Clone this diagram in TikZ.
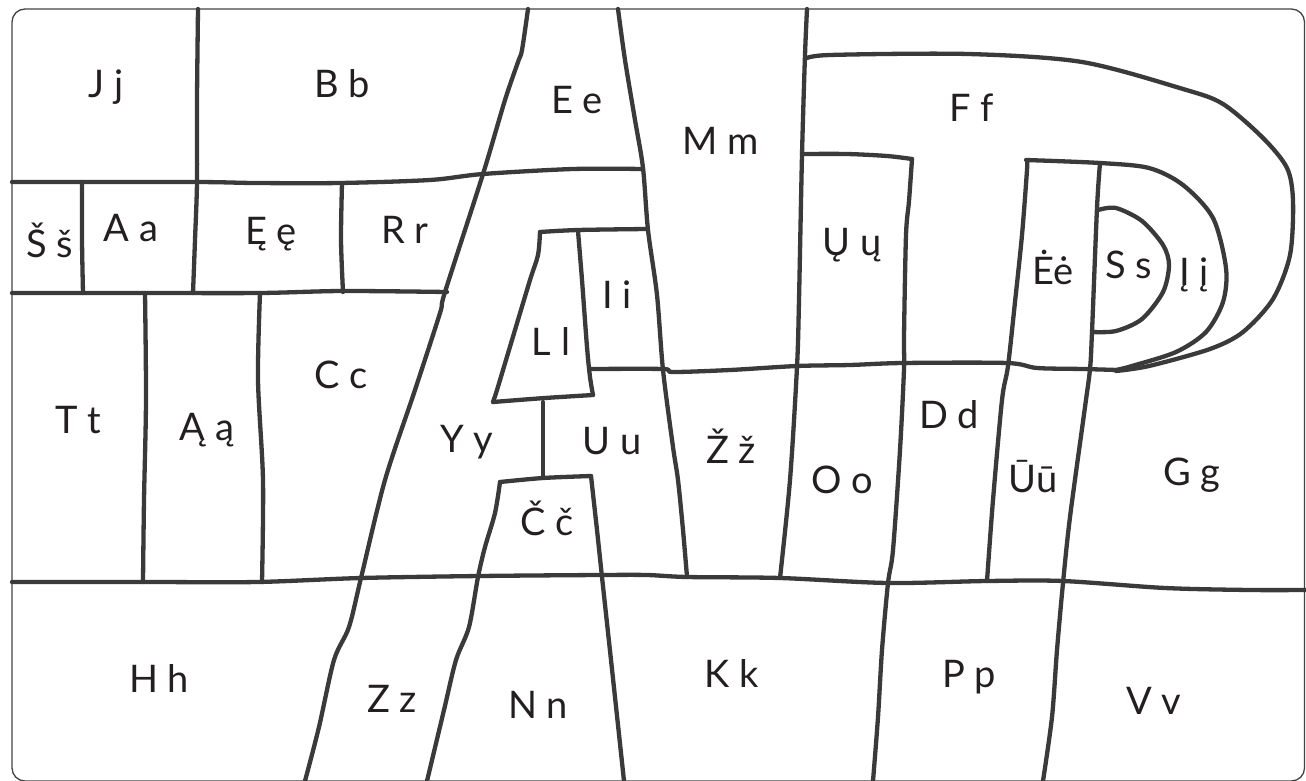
\documentclass[tikz,border=0pt]{standalone}
\usepackage{fontspec}
\setmainfont{Lato}
\definecolor{inkline}{HTML}{3A3A3A}
\definecolor{inktext}{HTML}{231F20}
\definecolor{framecol}{HTML}{444444}
\tikzset{
  ln/.style={draw=inkline, line width=4.3pt, line cap=round, line join=round},
  framebox/.style={draw=framecol, line width=1.3pt, rounded corners=13pt},
  lab/.style={anchor=base, inner sep=0pt, text=inktext, font=\fontsize{38}{40}\selectfont},
}
\begin{document}
\begin{tikzpicture}[x=1pt, y=-1pt]
\useasboundingbox (0,0) rectangle (1306,781);
\fill[white] (0,0) rectangle (1306,781);
\draw[framebox] (12,9) rectangle (1304.5,781);

% top crossbar
\draw[ln] plot[smooth,tension=.5] coordinates {(12,182) (195,182) (255,183) (340,183) (430,180) (483,174) (573,169) (643,169)};
% J/B divider
\draw[ln] plot[smooth,tension=.5] coordinates {(198,9) (197,100) (197,182) (195,240) (193,293)};
% second horizontal
\draw[ln] plot[smooth,tension=.5] coordinates {(12,293) (145,293) (260,293) (342,291) (447,292)};
% S/A and E/R dividers
\draw[ln] plot[smooth,tension=.5] coordinates {(82,182) (82,240) (83,293)};
\draw[ln] plot[smooth,tension=.5] coordinates {(342,183) (341,240) (343,292)};
% left leg
\draw[ln] plot[smooth,tension=.5] coordinates {(528,9) (522,50) (518,62) (505,100) (483,174) (445,292) (440,313) (415,390) (385,480) (361,578) (349,627) (334,660) (319,727) (305,781)};
% right leg upper
\draw[ln] plot[smooth,tension=.5] coordinates {(618,9) (625,60) (635,120) (643,168) (648,230) (657,295) (663,370) (673,447) (678,480) (683,530) (687,577)};
% M right divider
\draw[ln] plot[smooth,tension=.5] coordinates {(807,9) (805,55) (802,155) (799,300) (797,367) (790,480) (780,578)};
% F outer
\draw[ln] plot[smooth,tension=.5] coordinates {(805,59) (830,55) (968,54) (1082,62) (1183,89) (1223,104) (1263,138) (1287,168) (1293,201) (1290,255) (1273,299) (1243,332) (1210,349) (1149,366) (1116,371)};
% U-ogonek box top
\draw[ln] plot[smooth,tension=.5] coordinates {(802,154) (847,154) (887,156) (912,159)};
% D/O divider down to bottom
\draw[ln] plot[smooth,tension=.5] coordinates {(912,159) (909,201) (906,235) (904,336) (904,369) (900,450) (893,550) (888,583) (882,650) (878,717) (873,781)};
% middle horizontal
\draw[ln] plot[smooth,tension=.5] coordinates {(590,369) (663,369) (673,372) (730,370) (797,366) (850,365) (903,363) (1007,363) (1037,368) (1083,369) (1117,370)};
% inner ring (I-ogonek outer)
\draw[ln] plot[smooth,tension=.5] coordinates {(1026,160) (1100,163) (1149,168) (1183,185) (1213,218) (1226,268) (1223,302) (1206,332) (1176,352) (1132,366) (1116,370)};
% E-dot left / U-macron left
\draw[ln] plot[smooth,tension=.5] coordinates {(1027,161) (1027,170) (1022,235) (1015,302) (1008,366) (1002,400) (993,500) (987,581)};
% E-dot/S line to bottom
\draw[ln] plot[smooth,tension=.5] coordinates {(1100,163) (1097,208) (1092,332) (1090,369) (1085,407) (1070,517) (1063,583) (1057,650) (1052,717) (1043,781)};
% S semicircle
\draw[ln] plot[smooth,tension=.5] coordinates {(1098,210) (1116,208) (1142,221) (1163,245) (1169,265) (1163,292) (1142,319) (1116,331) (1092,332)};
% bottom horizontal
\draw[ln] plot[smooth,tension=.5] coordinates {(12,582) (145,582) (257,582) (361,578) (480,576) (600,575) (647,575) (687,577) (780,578) (888,583) (987,581) (1063,581) (1165,588) (1250,590) (1306,590)};
% T/A-ogonek and A-ogonek/C dividers
\draw[ln] plot[smooth,tension=.5] coordinates {(145,293) (146,400) (144,500) (143,582)};
\draw[ln] plot[smooth,tension=.5] coordinates {(260,293) (258,380) (263,480) (262,582)};
% C-caron box left leg, Z/N divider
\draw[ln] plot[smooth,tension=.5] coordinates {(500,482) (495,513) (485,547) (478,577) (469,627) (456,660) (444,710) (427,781)};
% C-caron top
\draw[ln] plot[smooth,tension=.5] coordinates {(500,482) (543,478) (591,476)};
% C-caron right, N/K divider
\draw[ln] plot[smooth,tension=.5] coordinates {(591,476) (597,530) (602,577) (611,660) (624,781)};
% stem
\draw[ln] (543,402) -- (543,477);
% L top line
\draw[ln] plot[smooth,tension=.5] coordinates {(540,232) (578,230) (647,229)};
% L left side
\draw[ln] plot[smooth,tension=.5] coordinates {(540,232) (538,255) (530,280) (512,340) (497,390) (493,402)};
% L bottom
\draw[ln] plot[smooth,tension=.5] coordinates {(493,402) (545,398) (593,395)};
% L right / I left
\draw[ln] plot[smooth,tension=.5] coordinates {(578,231) (582,280) (587,347) (590,377) (593,395)};

% labels
\node[lab] (jj) at (106,98) {J j};
\node[lab] (bb) at (342,98) {B b};
\node[lab] (ee) at (577,114) {E e};
\node[lab] (mm) at (721,154) {M m};
\node[lab] (ff) at (972,122) {F f};
\node[lab] (ss1) at (50,257) {Š š};
\node[lab] (aa) at (131,241) {A a};
\node[lab] (eog) at (271,244) {Ę ę};
\node[lab] (rr) at (405,243) {R r};
\node[lab] (uog) at (852,255) {Ų ų};
\node[lab] (edot) at (1053,284) {Ėė};
\node[lab] (ss) at (1129,278) {S s};
\node[lab] (iog) at (1194,285) {Į į};
\node[lab] (ii) at (617,308) {I i};
\node[lab] (ll) at (551,355) {L l};
\node[lab] (cc) at (341,388) {C c};
\node[lab] (tt) at (78,433) {T t};
\node[lab] (aog) at (207,440) {Ą ą};
\node[lab] (yy) at (467,452) {Y y};
\node[lab] (uu) at (612,454) {U u};
\node[lab] (zc) at (731,463) {Ž ž};
\node[lab] (oo) at (842,493) {O o};
\node[lab] (dd) at (949,428) {D d};
\node[lab] (umac) at (1033,492) {Ūū};
\node[lab] (gg) at (1192,485) {G g};
\node[lab] (cc2) at (547,535) {Č č};
\node[lab] (hh) at (159,692) {H h};
\node[lab] (zz) at (392,712) {Z z};
\node[lab] (nn) at (538,718) {N n};
\node[lab] (kk) at (732,687) {K k};
\node[lab] (pp) at (969,687) {P p};
\node[lab] (vv) at (1154,714) {V v};
\end{tikzpicture}
\end{document}
